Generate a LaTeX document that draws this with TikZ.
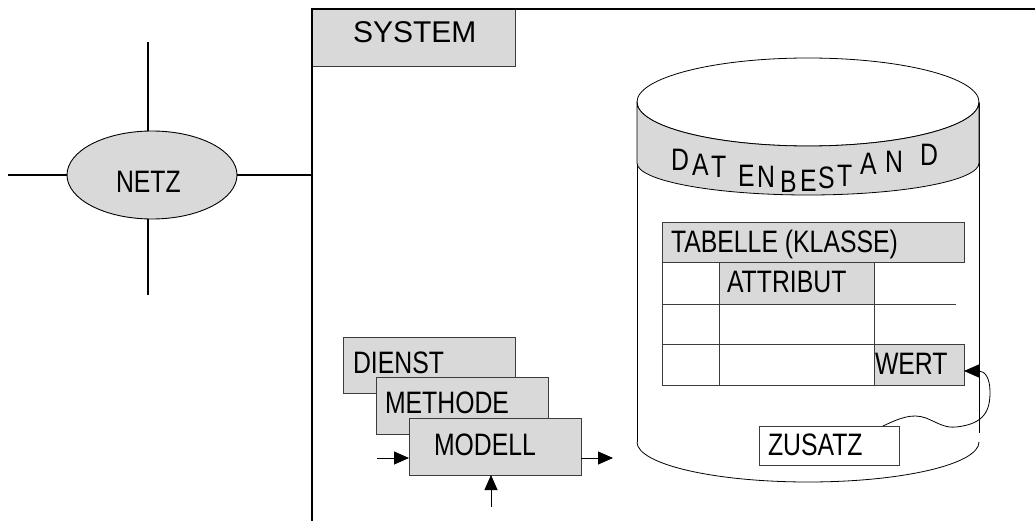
\documentclass[tikz,border=0pt]{standalone}
\usepackage{fontspec}
\setmainfont{Liberation Sans}
\newfontfamily\nf[FakeStretch=0.8]{Liberation Sans}
\usetikzlibrary{arrows.meta,shapes.geometric,calc}
\definecolor{boxgray}{RGB}{217,217,217}
\definecolor{edgegray}{RGB}{60,60,60}
\begin{document}
\begin{tikzpicture}[x=1pt,y=-1pt,
  every node/.style={inner sep=0pt,outer sep=0pt},
  box/.style={draw=edgegray,line width=0.9pt,fill=boxgray,anchor=north west},
  lbl/.style={anchor=base west,font=\nf\fontsize{31}{36}\selectfont},
  syslbl/.style={anchor=base west,font=\fontsize{30}{36}\selectfont},
  cell/.style={draw=edgegray,line width=0.9pt},
  thinline/.style={draw=black,line width=0.8pt},
  frameline/.style={draw=black,line width=1.8pt},
  netline/.style={draw=black,line width=1.3pt},
  tip/.style={-{Triangle[length=15pt,width=13pt]},line width=0.9pt}
]
\useasboundingbox (0,0) rectangle (1035,521);

% ---------- SYSTEM frame ----------
\node[box,minimum width=203pt,minimum height=57pt] (sys) at (312,9) {};
\node[syslbl] (systxt) at (353,43) {SYSTEM};
\coordinate (ftl) at (312,9);
\coordinate (ftr) at (1035,9);
\coordinate (fbl) at (312,521);
\draw[frameline] (fbl) -- (ftl) -- (ftr);

% ---------- NETZ ----------
\node[ellipse,draw=black,line width=0.9pt,fill=boxgray,minimum width=170pt,minimum height=88pt] (netz) at (152,175) {};
\node[lbl] (netztxt) at (116,193) {NETZ};
\coordinate (nt) at (148,42);
\coordinate (nb) at (148,295);
\coordinate (nl) at (8,175);
\draw[netline] (nt) -- (nt |- netz.north);
\draw[netline] (nb) -- (nb |- netz.south);
\draw[netline] (nl) -- (netz.west);
\draw[netline] (netz.east) -- (netz.east -| ftl);

% ---------- DATENBESTAND cylinder ----------
\draw[thinline] (637,103) -- (637,442);
\draw[thinline] (979,103) -- (979,433);
\draw[thinline,fill=white] (808,102) ellipse [x radius=171, y radius=44];
\path[thinline,fill=boxgray] (637,102) arc[start angle=180,end angle=0,x radius=171,y radius=44]
  -- (979,163) arc[start angle=0,end angle=180,x radius=171,y radius=32] -- cycle;
\draw[thinline] (637,442) arc[start angle=180,end angle=0,x radius=171,y radius=40];

\node[lbl] (c1) at (671,171) {D};
\node[lbl] (c2) at (692,176) {A};
\node[lbl] (c3) at (711,178) {T};
\node[lbl] (c4) at (738,187) {E};
\node[lbl] (c5) at (757,188) {N};
\node[lbl] (c6) at (780,193) {B};
\node[lbl] (c7) at (800,192) {E};
\node[lbl] (c8) at (818,189) {S};
\node[lbl] (c9) at (837,187) {T};
\node[lbl] (c10) at (860,175) {A};
\node[lbl] (c11) at (885,173) {N};
\node[lbl] (c12) at (920,166) {D};

% ---------- table ----------
\node[box,minimum width=302pt,minimum height=40pt] (tab) at (662,222) {};
\node[lbl] (tabtxt) at (671,253) {TABELLE (KLASSE)};
\node[box,minimum width=155pt,minimum height=42pt] (attr) at (719,262) {};
\node[lbl] (attrtxt) at (727,292) {ATTRIBUT};
\node[box,minimum width=90pt,minimum height=41pt] (wert) at (874,344) {};
\node[lbl] (werttxt) at (875,374) {WERT};
\draw[cell] (tab.south west) -- (tab.south west |- wert.south) -- (wert.south west);
\draw[cell] (attr.south west) -- (attr.south west |- wert.south);
\draw[cell] (tab.south west |- attr.south) -- (attr.south west);
\coordinate (r2e) at (956,304);
\draw[cell] (attr.south east) -- (r2e);
\draw[cell] (tab.south west |- wert.north) -- (wert.north west);
\draw[cell] (attr.south east) -- (wert.north west);

% ---------- ZUSATZ ----------
\node[box,fill=white,minimum width=140pt,minimum height=39pt] (zus) at (759,426) {};
\node[lbl] (zustxt) at (768,455) {ZUSATZ};
\coordinate (wertin) at (964,371);
\draw[tip,line width=0.8pt] ($(zus.north east)+(-16,0)$) .. controls (900,418) and (912,413) .. (926,418)
  .. controls (940,424) and (945,428) .. (956,427)
  .. controls (985,424) and (990,410) .. (990,392)
  .. controls (990,378) and (985,371) .. (wertin);

% ---------- DIENST / METHODE / MODELL ----------
\node[box,minimum width=172pt,minimum height=56pt] (dienst) at (343,337) {};
\node[lbl] (diensttxt) at (353,373) {DIENST};
\node[box,minimum width=172pt,minimum height=57pt] (methode) at (376,377) {};
\node[lbl] (methodetxt) at (385,413) {METHODE};
\node[box,minimum width=172pt,minimum height=57pt] (modell) at (409,418) {};
\node[lbl] (modelltxt) at (434,455) {MODELL};
\coordinate (min) at (377,458);
\coordinate (mout) at (613,458);
\coordinate (mbot) at (491,507);
\draw[tip] (min) -- (min -| modell.west);
\draw[tip] (mout -| modell.east) -- (mout);
\draw[tip] (mbot) -- (mbot |- modell.south);
\end{tikzpicture}
\end{document}
